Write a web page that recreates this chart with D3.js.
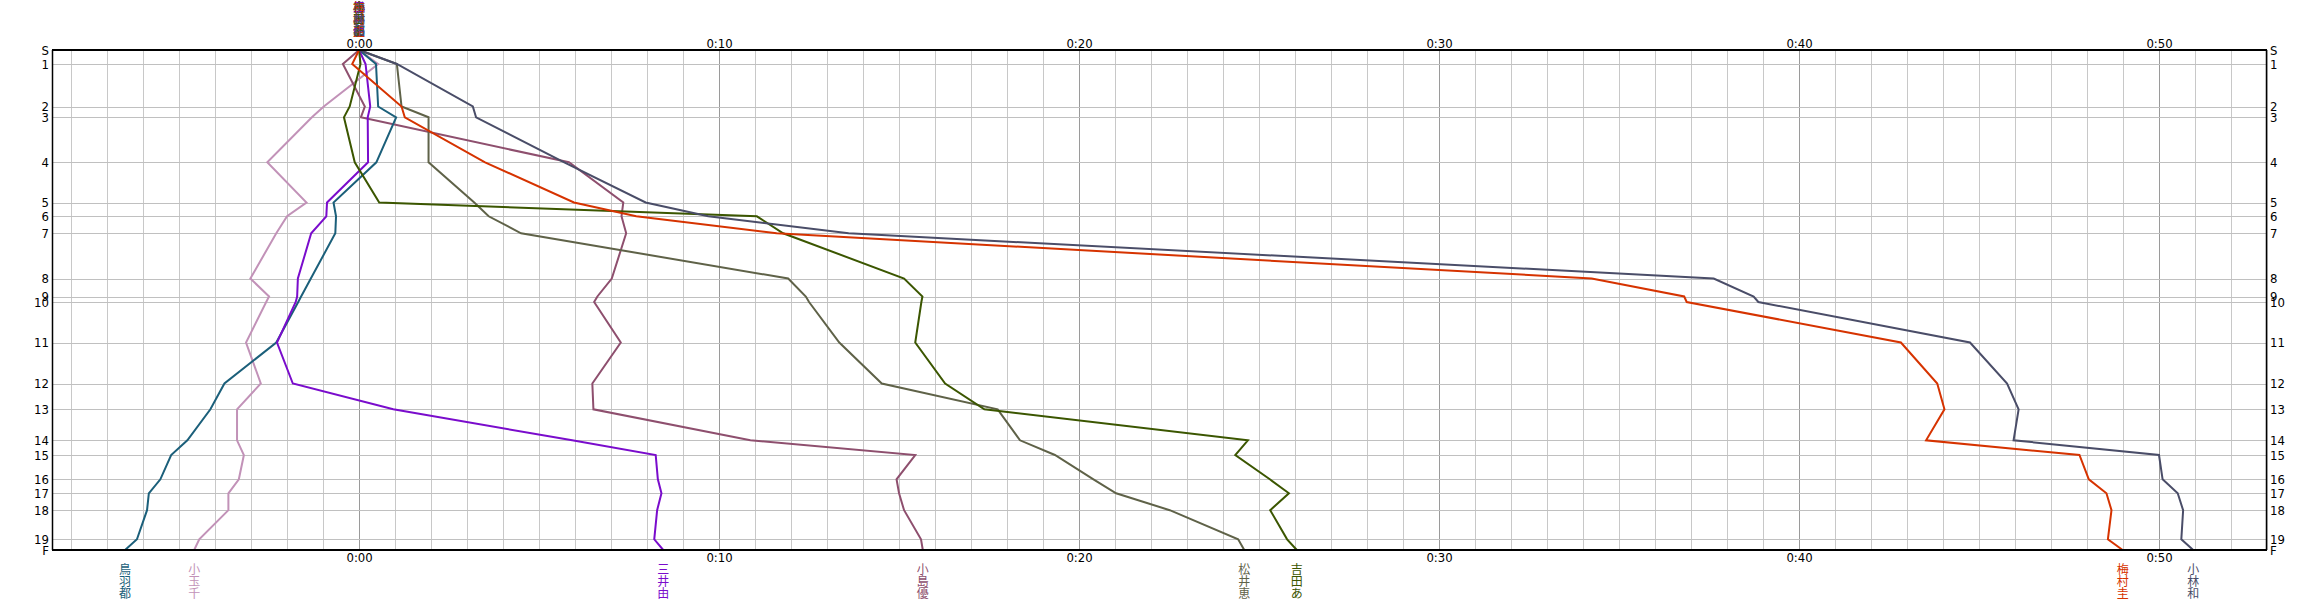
<!DOCTYPE html>
<html>
<head>
<meta charset="utf-8">
<script src="https://cdn.jsdelivr.net/npm/d3@7"></script>
<style>
  body { margin: 0; background: #fff; }
  svg { display: block; }
</style>
</head>
<body>
<div id="chart"></div>
<script>
// control points and their position along the course (cumulative, S = 0, F = 500)
const controls = ['S', '1', '2', '3', '4', '5', '6', '7', '8', '9', '10',
  '11', '12', '13', '14', '15', '16', '17', '18', '19', 'F'];
const coursePos = [0, 14, 56.5, 67.3, 112.3, 152.5, 166.3, 183.3, 228.5, 246.5, 252,
  292.5, 333.5, 359.3, 390.3, 405, 429.3, 443.3, 460.2, 489.3, 500];

// time behind (+) / ahead (-) of the reference, in minutes, at each control
const tobaMiyako   = [0, 0.47, 0.53, 1.03, 0.48, -0.71, -0.64, -0.66, -1.34, -1.61, -1.69,
  -2.3, -3.74, -4.13, -4.77, -5.22, -5.52, -5.84, -5.89, -6.17, -6.5];
const kodamaChi    = [0, 0.53, -0.98, -1.31, -2.55, -1.46, -2.0, -2.3, -3.02, -2.5, -2.58,
  -3.14, -2.73, -3.39, -3.39, -3.2, -3.34, -3.63, -3.63, -4.44, -4.58];
const miiYu        = [0, 0.18, 0.31, 0.24, 0.25, -0.89, -0.91, -1.33, -1.7, -1.72, -1.76,
  -2.28, -1.84, 0.95, 5.92, 8.24, 8.3, 8.4, 8.28, 8.2, 8.45];
const kojimaYu     = [0, -0.45, 0.16, 0.05, 5.83, 7.34, 7.29, 7.42, 7.02, 6.62, 6.53,
  7.27, 6.48, 6.51, 10.87, 15.45, 14.93, 15.0, 15.14, 15.61, 15.66];
const matsuiMegumi = [0, 1.05, 1.18, 1.93, 1.93, 3.2, 3.6, 4.5, 11.92, 12.41, 12.5,
  13.34, 14.52, 17.74, 18.36, 19.33, 20.4, 21.03, 22.52, 24.42, 24.59];
const yoshidaA     = [0, 0.04, -0.26, -0.42, -0.12, 0.56, 11.05, 11.78, 15.14, 15.65, 15.62,
  15.45, 16.28, 17.37, 24.69, 24.34, 25.3, 25.83, 25.31, 25.78, 26.05];
const umemuraKei   = [0, -0.19, 1.18, 1.27, 3.5, 5.97, 7.7, 11.6, 34.24, 36.81, 36.88,
  42.83, 43.84, 44.04, 43.53, 47.79, 48.05, 48.54, 48.68, 48.58, 48.99];
const kobayashiKazu = [0, 1.05, 3.16, 3.25, 5.7, 7.96, 9.7, 13.6, 37.63, 38.74, 38.87,
  44.75, 45.78, 46.1, 45.96, 50.0, 50.1, 50.52, 50.67, 50.62, 50.95];

const runnerNames = ['小玉千', '小島優', '松井恵', '鳥羽都', '三井由', '吉田あ', '梅村圭', '小林和'];
const runnerColors = ['#c292b8', '#8e4f6e', '#5f6248', '#1b5f7a', '#7a0ccc', '#3b5600', '#d63300', '#4a4d68'];
const runnerSplits = [kodamaChi, kojimaYu, matsuiMegumi, tobaMiyako, miiYu, yoshidaA, umemuraKei, kobayashiKazu];

const timeTicks = [0, 10, 20, 30, 40, 50];

const width = 2319;
const height = 600;
const margin = { top: 50, right: 52, bottom: 50, left: 52 };
const innerWidth = width - margin.left - margin.right;
const innerHeight = height - margin.top - margin.bottom;

const svg = d3.select('#chart')
  .append('svg')
  .attr('width', width)
  .attr('height', height)
  .append('g')
  .attr('transform', `translate(${margin.left},${margin.top})`);

const xScale = d3.scaleLinear()
  .domain([-8.53, 53])
  .range([0, innerWidth]);

const yScale = d3.scaleLinear()
  .domain([0, 500])
  .range([0, innerHeight]);

const numFont = "'Liberation Sans Narrow', 'DejaVu Sans Condensed', sans-serif";
const jpFont = "'Noto Sans CJK JP', sans-serif";
const fmt = m => `0:${String(m).padStart(2, '0')}`;

// minute gridlines
const minutes = d3.range(-8, 54);
svg.append('g')
  .selectAll('line')
  .data(minutes)
  .join('line')
  .attr('x1', d => Math.round(xScale(d)) + 0.5)
  .attr('x2', d => Math.round(xScale(d)) + 0.5)
  .attr('y1', 0)
  .attr('y2', innerHeight)
  .attr('stroke', d => d % 10 === 0 ? '#9a9a9a' : '#c8c8c8')
  .attr('stroke-width', 1);

// control gridlines
svg.append('g')
  .selectAll('line')
  .data(coursePos)
  .join('line')
  .attr('x1', 0)
  .attr('x2', innerWidth)
  .attr('y1', d => Math.round(yScale(d)) + 0.5)
  .attr('y2', d => Math.round(yScale(d)) + 0.5)
  .attr('stroke', '#c0c0c0')
  .attr('stroke-width', 1);

// runner lines
const line = d3.line()
  .x(d => xScale(d.t))
  .y(d => yScale(d.pos));

runnerSplits.forEach((splits, i) => {
  svg.append('path')
    .datum(splits.map((t, j) => ({ t, pos: coursePos[j] })))
    .attr('d', line)
    .attr('fill', 'none')
    .attr('stroke', runnerColors[i])
    .attr('stroke-width', 2);
});

// frame
svg.append('line').attr('x1', 0).attr('x2', innerWidth).attr('y1', 0).attr('y2', 0)
  .attr('stroke', '#000').attr('stroke-width', 2);
svg.append('line').attr('x1', 0).attr('x2', innerWidth).attr('y1', innerHeight).attr('y2', innerHeight)
  .attr('stroke', '#000').attr('stroke-width', 2);
svg.append('line').attr('x1', 0.5).attr('x2', 0.5).attr('y1', 0).attr('y2', innerHeight)
  .attr('stroke', '#000').attr('stroke-width', 1.5);
svg.append('line').attr('x1', innerWidth - 0.5).attr('x2', innerWidth - 0.5).attr('y1', 0).attr('y2', innerHeight)
  .attr('stroke', '#000').attr('stroke-width', 1.5);

// time axes
const styleAxis = g => {
  g.select('.domain').remove();
  g.selectAll('line').remove();
  g.selectAll('text')
    .attr('font-family', numFont)
    .attr('font-size', '13px')
    .attr('fill', '#000');
};

svg.append('g')
  .call(d3.axisTop(xScale).tickValues(timeTicks).tickFormat(fmt).tickSize(0).tickPadding(2))
  .call(styleAxis);

svg.append('g')
  .attr('transform', `translate(0,${innerHeight})`)
  .call(d3.axisBottom(xScale).tickValues(timeTicks).tickFormat(fmt).tickSize(0).tickPadding(3))
  .call(styleAxis);

// control axes
svg.append('g')
  .call(d3.axisLeft(yScale).tickValues(coursePos).tickFormat((d, i) => controls[i]).tickSize(0).tickPadding(3))
  .call(styleAxis);

svg.append('g')
  .attr('transform', `translate(${innerWidth},0)`)
  .call(d3.axisRight(yScale).tickValues(coursePos).tickFormat((d, i) => controls[i]).tickSize(0).tickPadding(3))
  .call(styleAxis);

// runner names, written vertically: at the start (all overlapping) and under each finish
const charSize = 12;
runnerNames.forEach((name, i) => {
  const chars = Array.from(name);
  const finish = runnerSplits[i][runnerSplits[i].length - 1];

  svg.append('g')
    .selectAll('text')
    .data(chars)
    .join('text')
    .attr('x', xScale(0))
    .attr('y', (c, k) => -margin.top + 8 + k * charSize)
    .attr('dy', '0.35em')
    .attr('text-anchor', 'middle')
    .attr('font-family', jpFont)
    .attr('font-size', '12px')
    .attr('fill', runnerColors[i])
    .text(c => c);

  svg.append('g')
    .selectAll('text')
    .data(chars)
    .join('text')
    .attr('x', xScale(finish))
    .attr('y', (c, k) => innerHeight + 20 + k * charSize)
    .attr('dy', '0.35em')
    .attr('text-anchor', 'middle')
    .attr('font-family', jpFont)
    .attr('font-size', '12px')
    .attr('fill', runnerColors[i])
    .text(c => c);
});
</script>
</body>
</html>
